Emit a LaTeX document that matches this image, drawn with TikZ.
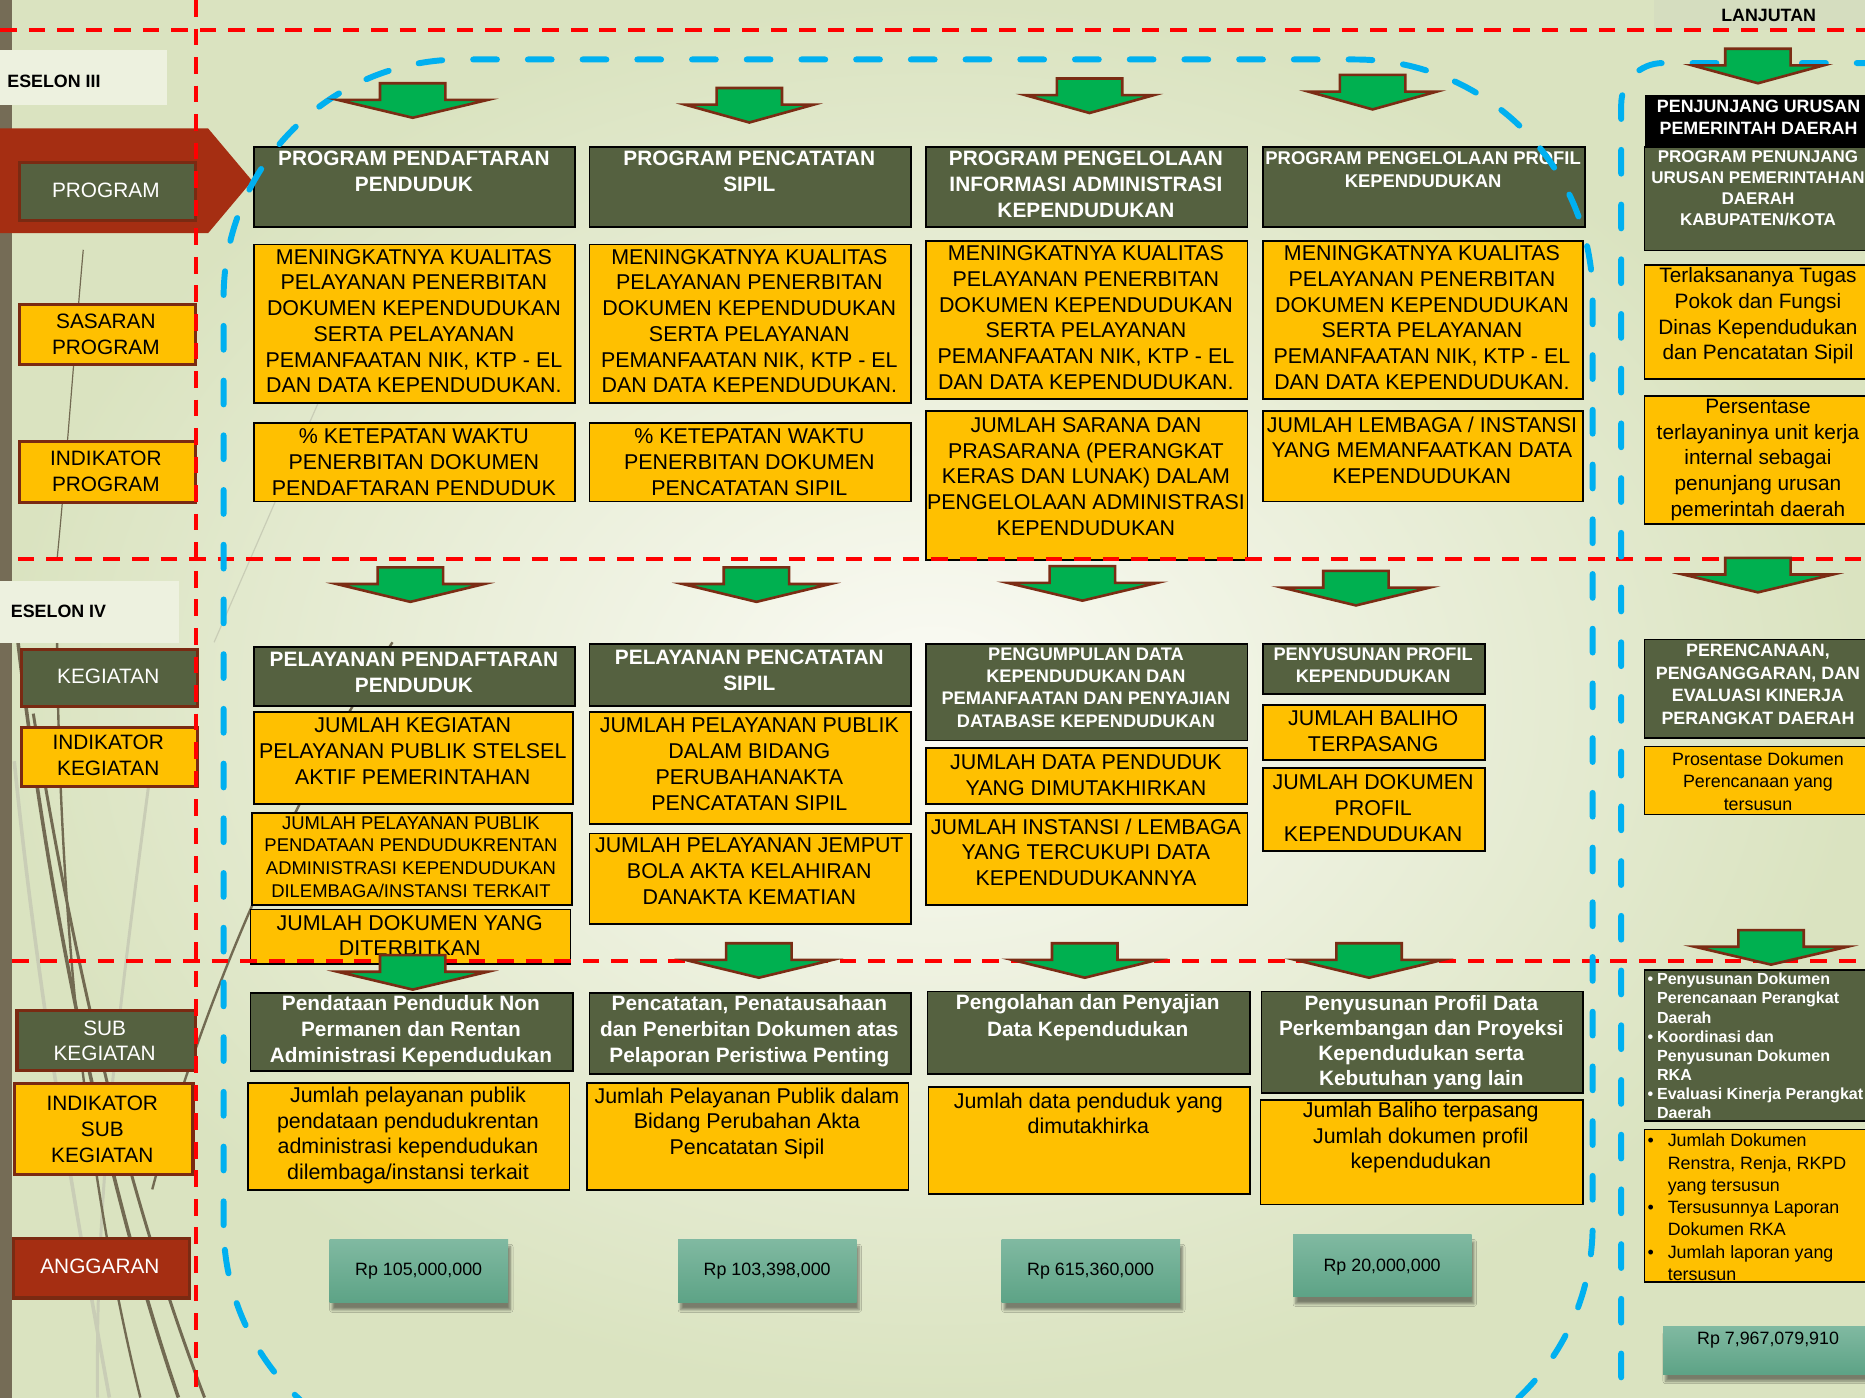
\documentclass[tikz,border=0pt]{standalone}
\usepackage{fontspec}
\setmainfont{Liberation Sans}
\usetikzlibrary{shadows.blur}
\definecolor{olivec}{HTML}{556140}
\definecolor{goldc}{HTML}{FFC000}
\definecolor{brownc}{HTML}{7A2A12}
\definecolor{redc}{HTML}{A52E12}
\definecolor{greenc}{HTML}{00B050}
\definecolor{arrowc}{HTML}{7B2C14}
\definecolor{bluec}{HTML}{00B0F0}
\definecolor{redd}{HTML}{FF0000}
\definecolor{stripec}{HTML}{756C56}
\definecolor{decod}{HTML}{726A52}
\definecolor{decol}{HTML}{C9CDB6}
\definecolor{tealt}{HTML}{80B9A1}
\definecolor{tealb}{HTML}{5DA386}
\definecolor{labelbg}{HTML}{EDF1DF}
\definecolor{lanjbg}{HTML}{D5DDBF}
\definecolor{bgin}{HTML}{FBFBF5}
\definecolor{bgout}{HTML}{DAE3C0}
\newcommand\bx[9]{%
  \node[#1, minimum width={#5-#3}, minimum height={#6-#4}, anchor=north west, inner sep=0pt] (#2) at (#3,#4) {};
  \node[txt, #7] (#2t) at ({(#3+#5)/2},#8) {#9};}
\newcommand\sastext{MENINGKATNYA KUALITAS\\PELAYANAN PENERBITAN\\DOKUMEN KEPENDUDUKAN\\SERTA PELAYANAN\\PEMANFAATAN NIK, KTP - EL\\DAN DATA KEPENDUDUKAN.}
\begin{document}
\begin{tikzpicture}[x=1pt,y=-1pt,
  obox/.style={draw=black, line width=1.4pt, fill=olivec},
  gbox/.style={draw=black, line width=1.4pt, fill=goldc},
  blkbox/.style={draw=black, fill=black},
  lobox/.style={draw=brownc, line width=2.6pt, fill=olivec},
  lgbox/.style={draw=brownc, line width=2.6pt, fill=goldc},
  lrbox/.style={draw=brownc, line width=2.6pt, fill=redc},
  anggbox/.style={top color=tealt, bottom color=tealb, blur shadow={shadow xshift=2pt, shadow yshift=-6pt, shadow blur steps=6, shadow opacity=45}},
  lanjbox/.style={fill=lanjbg},
  labelbox/.style={fill=labelbg},
  txt/.style={align=center, inner sep=0pt},
  wt/.style={text=white},
  R18/.style={font=\fontsize{18}{21.6}\selectfont},
  R175/.style={font=\fontsize{17.5}{21.6}\selectfont},
  R155/.style={font=\fontsize{15.5}{19}\selectfont},
  R15/.style={font=\fontsize{15}{19}\selectfont},
  R15b/.style={font=\fontsize{15}{18.7}\selectfont},
  B175/.style={font=\bfseries\fontsize{17.5}{22}\selectfont},
  B175s/.style={font=\bfseries\fontsize{17.5}{21}\selectfont},
  B155/.style={font=\bfseries\fontsize{15.5}{19}\selectfont},
  B153/.style={font=\bfseries\fontsize{15.3}{18.8}\selectfont},
  B15/.style={font=\bfseries\fontsize{15}{19}\selectfont},
  B143/.style={font=\bfseries\fontsize{14.3}{17.7}\selectfont},
  B135/.style={font=\bfseries\fontsize{13.5}{16.1}\selectfont},
  reddash/.style={draw=redd, line width=3pt, dash pattern=on 14pt off 10pt},
  bluedash/.style={draw=bluec, line width=5pt, line cap=round, dash pattern=on 20pt off 26pt},
  garrow/.pic={\draw[fill=greenc, draw=arrowc, line width=2.2pt] (-27.5,0) -- (27.5,0) -- (27.5,14) -- (#1,14) -- (0,29) -- (-#1,14) -- (-27.5,14) -- cycle;}
]
\useasboundingbox (0,0) rectangle (1568,1175);
\clip (0,0) rectangle (1568,1175);
% background
\shade[inner color=bgin, outer color=bgout] (0,0) rectangle (1568,1175);
\fill[stripec] (0,0) rectangle (10,1175);
% decorative strokes
\draw[decod, line width=1pt] (70,210) .. controls (62,300) and (55,400) .. (48,470);
\draw[decol, line width=1pt] (280,310) -- (180,540);
\draw[decol, line width=3pt] (12,640) .. controls (30,820) and (60,1000) .. (92,1175);
\draw[decol, line width=2.5pt] (125,660) .. controls (100,850) and (80,1000) .. (82,1175);
\draw[decod, line width=3pt] (14,530) .. controls (40,760) and (90,1000) .. (150,1175);
\draw[decod, line width=2.5pt] (28,600) .. controls (60,800) and (105,1000) .. (172,1175);
\draw[decod, line width=2pt] (48,540) .. controls (50,760) and (70,980) .. (118,1175);
\draw[decod, line width=2pt] (330,540) .. controls (250,660) and (170,840) .. (128,1000);
% eselon labels
\node[labelbox, minimum width=140, minimum height=46, anchor=north west, inner sep=0pt] (e3b) at (0,42) {};
\node[anchor=west, inner sep=0pt, B15] (e3) at (6,68) {ESELON III};
\node[labelbox, minimum width=150, minimum height=52, anchor=north west, inner sep=0pt] (e4b) at (0,488) {};
\node[anchor=west, inner sep=0pt, B15] (e4) at (9,514) {ESELON IV};
\bx{lanjbox}{lj}{1390}{0}{1584}{25}{B15}{13}{LANJUTAN}
% program arrow
\fill[redc] (0,108) -- (175,108) -- (212,152) -- (175,196) -- (0,196) -- cycle;
% left labels
\bx{lobox}{lp}{15}{135}{163}{184}{R175,wt}{160}{PROGRAM}
\bx{lgbox}{ls}{15}{255}{163}{305}{R175}{281}{SASARAN\\PROGRAM}
\bx{lgbox}{li}{15}{370}{163}{421}{R175}{396.5}{INDIKATOR\\PROGRAM}
\bx{lobox}{lk}{17}{545}{165}{593}{R175,wt}{569}{KEGIATAN}
\bx{lgbox}{lki}{17}{610}{165}{660}{R175}{635}{INDIKATOR\\KEGIATAN}
\bx{lobox}{lsk}{13}{848}{163}{899}{R175,wt}{875}{SUB\\KEGIATAN}
\bx{lgbox}{lski}{11}{910}{161}{986}{R175}{949.5}{INDIKATOR\\SUB\\KEGIATAN}
\bx{lrbox}{la}{10}{1040}{158}{1090}{R175,wt}{1065}{ANGGARAN}
% program row
\bx{obox}{p1}{213}{123}{483}{190}{B175,wt}{144}{PROGRAM PENDAFTARAN\\PENDUDUK}
\bx{obox}{p2}{495}{123}{765}{190}{B175,wt}{144}{PROGRAM PENCATATAN\\SIPIL}
\bx{obox}{p3}{778}{123}{1048}{190}{B175,wt}{155}{PROGRAM PENGELOLAAN\\INFORMASI ADMINISTRASI\\KEPENDUDUKAN}
\bx{obox}{p4}{1061}{123}{1332}{190}{B155,wt}{142.5}{PROGRAM PENGELOLAAN PROFIL\\KEPENDUDUKAN}
% sasaran
\bx{gbox}{s1}{213}{205}{483}{338}{R18}{270}{\sastext}
\bx{gbox}{s2}{495}{205}{765}{338}{R18}{270}{\sastext}
\bx{gbox}{s3}{778}{202}{1048}{335}{R18}{267}{\sastext}
\bx{gbox}{s4}{1061}{202}{1330}{335}{R18}{267}{\sastext}
% indikator program
\bx{gbox}{i1}{213}{355}{483}{421}{R18}{388.5}{\% KETEPATAN WAKTU\\PENERBITAN DOKUMEN\\PENDAFTARAN PENDUDUK}
\bx{gbox}{i2}{495}{355}{765}{421}{R18}{388.5}{\% KETEPATAN WAKTU\\PENERBITAN DOKUMEN\\PENCATATAN SIPIL}
\bx{gbox}{i3}{778}{345}{1048}{470}{R18}{400.5}{JUMLAH SARANA DAN\\PRASARANA (PERANGKAT\\KERAS DAN LUNAK) DALAM\\PENGELOLAAN ADMINISTRASI\\KEPENDUDUKAN}
\bx{gbox}{i4}{1061}{345}{1330}{421}{R18}{378.5}{JUMLAH LEMBAGA / INSTANSI\\YANG MEMANFAATKAN DATA\\KEPENDUDUKAN}
% right column eselon III
\bx{blkbox}{rh}{1383}{80}{1574}{122}{B15,wt}{98.5}{PENJUNJANG URUSAN\\PEMERINTAH DAERAH}
\bx{obox}{rp}{1382}{123}{1574}{210}{B143,wt}{158.5}{PROGRAM PENUNJANG\\URUSAN PEMERINTAHAN\\DAERAH\\KABUPATEN/KOTA}
\bx{gbox}{rs}{1382}{222}{1574}{318}{R175}{265.5}{Terlaksananya Tugas\\Pokok dan Fungsi\\Dinas Kependudukan\\dan Pencatatan Sipil}
\bx{gbox}{ri}{1382}{332}{1574}{440}{R175}{386.5}{Persentase\\terlayaninya unit kerja\\internal sebagai\\penunjang urusan\\pemerintah daerah}
% eselon IV kegiatan
\bx{obox}{k1}{213}{543}{483}{593}{B175,wt}{565}{PELAYANAN PENDAFTARAN\\PENDUDUK}
\bx{gbox}{k1a}{213}{598}{481}{675}{R18}{631.5}{JUMLAH KEGIATAN\\PELAYANAN PUBLIK STELSEL\\AKTIF PEMERINTAHAN}
\bx{gbox}{k1b}{211}{683}{480}{760}{R155}{720.5}{JUMLAH PELAYANAN PUBLIK\\PENDATAAN PENDUDUKRENTAN\\ADMINISTRASI KEPENDUDUKAN\\DILEMBAGA/INSTANSI TERKAIT}
\bx{gbox}{k1c}{210}{764}{479}{810}{R18}{786.5}{JUMLAH DOKUMEN YANG\\DITERBITKAN}
\bx{obox}{k2}{495}{541}{765}{593}{B175,wt}{563.5}{PELAYANAN PENCATATAN\\SIPIL}
\bx{gbox}{k2a}{495}{598}{765}{692}{R18}{642.5}{JUMLAH PELAYANAN PUBLIK\\DALAM BIDANG\\PERUBAHANAKTA\\PENCATATAN SIPIL}
\bx{gbox}{k2b}{495}{700}{765}{776}{R18}{732.5}{JUMLAH PELAYANAN JEMPUT\\BOLA AKTA KELAHIRAN\\DANAKTA KEMATIAN}
\bx{obox}{k3}{778}{541}{1048}{622}{B153,wt}{578}{PENGUMPULAN DATA\\KEPENDUDUKAN DAN\\PEMANFAATAN DAN PENYAJIAN\\DATABASE KEPENDUDUKAN}
\bx{gbox}{k3a}{778}{628}{1048}{675}{R18}{652}{JUMLAH DATA PENDUDUK\\YANG DIMUTAKHIRKAN}
\bx{gbox}{k3b}{778}{683}{1048}{760}{R18}{716.5}{JUMLAH INSTANSI / LEMBAGA\\YANG TERCUKUPI DATA\\KEPENDUDUKANNYA}
\bx{obox}{k4}{1061}{541}{1248}{583}{B153,wt}{559.5}{PENYUSUNAN PROFIL\\KEPENDUDUKAN}
\bx{gbox}{k4a}{1061}{592}{1248}{638}{R18}{614.5}{JUMLAH BALIHO\\TERPASANG}
\bx{gbox}{k4b}{1061}{645}{1248}{715}{R18}{679.5}{JUMLAH DOKUMEN\\PROFIL\\KEPENDUDUKAN}
\bx{obox}{rk}{1382}{537}{1574}{620}{B15,wt}{575.5}{PERENCANAAN,\\PENGANGGARAN, DAN\\EVALUASI KINERJA\\PERANGKAT DAERAH}
\bx{gbox}{rka}{1382}{627}{1574}{684}{R15}{657}{Prosentase Dokumen\\Perencanaan yang\\tersusun}
% sub kegiatan
\bx{obox}{u1}{210}{834}{481}{900}{B175,wt}{867}{Pendataan Penduduk Non\\Permanen dan Rentan\\Administrasi Kependudukan}
\bx{gbox}{u1a}{208}{910}{478}{1000}{R18}{954.5}{Jumlah pelayanan publik\\pendataan pendudukrentan\\administrasi kependudukan\\dilembaga/instansi terkait}
\bx{obox}{u2}{495}{834}{765}{902}{B175,wt}{867}{Pencatatan, Penatausahaan\\dan Penerbitan Dokumen atas\\Pelaporan Peristiwa Penting}
\bx{gbox}{u2a}{493}{910}{763}{1000}{R18}{944.5}{Jumlah Pelayanan Publik dalam\\Bidang Perubahan Akta\\Pencatatan Sipil}
\bx{obox}{u3}{779}{833}{1050}{902}{B175,wt}{855.5}{Pengolahan dan Penyajian\\Data Kependudukan}
\bx{gbox}{u3a}{780}{913}{1050}{1003}{R18}{936}{Jumlah data penduduk yang\\dimutakhirka}
\bx{obox}{u4}{1060}{833}{1330}{918}{B175s,wt}{876.5}{Penyusunan Profil Data\\Perkembangan dan Proyeksi\\Kependudukan serta\\Kebutuhan yang lain}
\bx{gbox}{u4a}{1059}{924}{1330}{1012}{R18}{956.5}{Jumlah Baliho terpasang\\Jumlah dokumen profil\\kependudukan}
\node[obox, minimum width=192, minimum height=127, anchor=north west, inner sep=0pt] (ru) at (1382,815) {};
\node[anchor=west, align=left, inner sep=0pt, B135, wt] (rut) at (1385,879.5) {\makebox[8pt][l]{•}Penyusunan Dokumen\\\hspace*{8pt}Perencanaan Perangkat\\\hspace*{8pt}Daerah\\\makebox[8pt][l]{•}Koordinasi dan\\\hspace*{8pt}Penyusunan Dokumen\\\hspace*{8pt}RKA\\\makebox[8pt][l]{•}Evaluasi Kinerja Perangkat\\\hspace*{8pt}Daerah};
\node[gbox, minimum width=192, minimum height=128, anchor=north west, inner sep=0pt] (rua) at (1382,949) {};
\node[anchor=west, align=left, inner sep=0pt, R15b] (ruat) at (1385,1015) {\makebox[17pt][l]{•}Jumlah Dokumen\\\hspace*{17pt}Renstra, Renja, RKPD\\\hspace*{17pt}yang tersusun\\\makebox[17pt][l]{•}Tersusunnya Laporan\\\hspace*{17pt}Dokumen RKA\\\makebox[17pt][l]{•}Jumlah laporan yang\\\hspace*{17pt}tersusun};
% anggaran
\bx{anggbox}{a1}{277}{1042}{427}{1095}{R15}{1069}{Rp 105,000,000}
\bx{anggbox}{a2}{570}{1042}{720}{1095}{R15}{1069}{Rp 103,398,000}
\bx{anggbox}{a3}{842}{1042}{992}{1095}{R15}{1069}{Rp 615,360,000}
\bx{anggbox}{a4}{1087}{1038}{1237}{1090}{R15}{1065}{Rp 20,000,000}
\bx{anggbox}{ar}{1398}{1115}{1575}{1155}{R15}{1127}{Rp 7,967,079,910}
% red dashed dividers
\draw[reddash] (0,25) -- (1568,25);
\draw[reddash] (165,0) -- (165,1175);
\draw[reddash] (15,470) -- (1568,470);
\draw[reddash] (10,808) -- (1568,808);
% blue dashed outlines
\draw[bluedash, rounded corners=200pt] (188,1230) -- (188,50) -- (1339,50) -- (1339,1230) -- cycle;
\draw[bluedash, rounded corners=35pt] (1363,1250) -- (1363,53) -- (1620,53);
% green arrows
\pic (ga1) at (347,70) {garrow=63};
\pic (ga2) at (630,74) {garrow=54};
\pic (ga3) at (916,66) {garrow=54};
\pic (ga4) at (1154,63) {garrow=54};
\pic (ga5) at (1478,41) {garrow=55};
\pic (gb1) at (345,477) {garrow=62};
\pic (gb2) at (636,477) {garrow=62};
\pic (gb3) at (910,476) {garrow=63};
\pic (gb4) at (1140,480) {garrow=62};
\pic (gb5) at (1478,469) {garrow=63};
\pic (gc1) at (347,803) {garrow=63};
\pic (gc2) at (638,793) {garrow=62};
\pic (gc3) at (912,793) {garrow=61};
\pic (gc4) at (1151,793) {garrow=62};
\pic (gc5) at (1489,782) {garrow=64};
\end{tikzpicture}
\end{document}
